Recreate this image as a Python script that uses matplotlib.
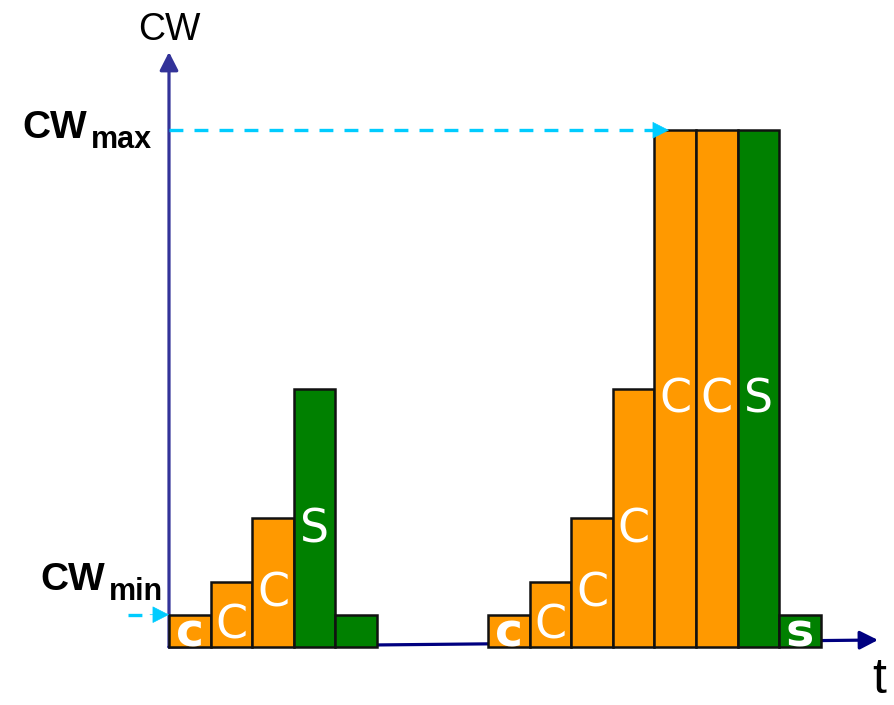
import matplotlib
matplotlib.use("Agg")
import matplotlib.pyplot as plt

# ---------------- data ----------------
group1_heights = [1, 2, 4, 8, 1]
group1_colors = ["#FF9900", "#FF9900", "#FF9900", "#008000", "#008000"]
group1_labels = ["c", "C", "C", "S", ""]

group2_heights = [1, 2, 4, 8, 16, 16, 16, 1]
group2_colors = ["#FF9900"] * 6 + ["#008000", "#008000"]
group2_labels = ["c", "C", "C", "C", "C", "C", "S", "s"]

group1_start = 0.0
group2_start = 7.67
cw_min = 1
cw_max = 16

# ---------------- layout ----------------
W, H = 894, 705
X0, Y0 = 169, 647         # pixel position of origin
SX, SY = 41.6, 32.3       # pixels per slot / per unit


def dx(px):
    return (px - X0) / SX


def dy(py):
    return (Y0 - py) / SY


plt.rcParams["lines.scale_dashes"] = False
fig = plt.figure(figsize=(W / 100, H / 100), dpi=100)
ax = fig.add_axes([0, 0, 1, 1])
ax.set_xlim(dx(0), dx(W))
ax.set_ylim(dy(H), dy(0))
ax.axis("off")

# axes arrows
ax.annotate("", xy=(0, dy(52)), xytext=(0, 0),
            arrowprops=dict(arrowstyle="-|>,head_length=0.55,head_width=0.28",
                            mutation_scale=20, lw=2.3, color="#333399",
                            shrinkA=0, shrinkB=0), zorder=1)
ax.annotate("", xy=(dx(878), dy(640)), xytext=(0, 0),
            arrowprops=dict(arrowstyle="-|>,head_length=0.55,head_width=0.28",
                            mutation_scale=20, lw=2.3, color="#000080",
                            shrinkA=0, shrinkB=0), zorder=1)


def draw_group(start, heights, colors, labels):
    xs = [start + i for i in range(len(heights))]
    ax.bar(xs, heights, width=1.0, align="edge", color=colors,
           edgecolor="#111111", linewidth=1.8, zorder=3)
    for x, h, lab in zip(xs, heights, labels):
        if not lab:
            continue
        if lab.islower():
            ax.text(x + 0.5, 0.03, lab, color="white", fontsize=34,
                    fontweight="bold", ha="center", va="baseline",
                    family="DejaVu Sans", zorder=5)
        else:
            ax.text(x + 0.5, h / 2 - 0.75, lab, color="white", fontsize=33,
                    ha="center", va="baseline", family="DejaVu Sans", zorder=5)


draw_group(group1_start, group1_heights, group1_colors, group1_labels)
draw_group(group2_start, group2_heights, group2_colors, group2_labels)

# dashed markers
cyan = "#00CCFF"
ax.plot([0, dx(655)], [cw_max, cw_max], color=cyan, lw=2.4,
        dashes=(10, 8), zorder=4, solid_capstyle="butt")
ax.annotate("", xy=(dx(669), cw_max), xytext=(dx(650), cw_max),
            arrowprops=dict(arrowstyle="-|>,head_length=0.55,head_width=0.28",
                            mutation_scale=20, lw=0.5, color=cyan,
                            shrinkA=0, shrinkB=0), zorder=6)
ax.plot([dx(128), dx(150)], [cw_min, cw_min], color=cyan, lw=2.4,
        dashes=(10, 8), zorder=4)
ax.annotate("", xy=(dx(169), cw_min), xytext=(dx(150), cw_min),
            arrowprops=dict(arrowstyle="-|>,head_length=0.55,head_width=0.28",
                            mutation_scale=20, lw=0.5, color=cyan,
                            shrinkA=0, shrinkB=0), zorder=6)

# texts
ax.text(0, dy(40), "CW", fontsize=27, family="Liberation Sans",
        ha="center", va="baseline")
ax.text(dx(22), dy(138), "CW", fontsize=28, fontweight="bold",
        family="Liberation Sans", ha="left", va="baseline")
ax.text(dx(91), dy(148), "max", fontsize=22, fontweight="bold",
        family="Liberation Sans", ha="left", va="baseline")
ax.text(dx(40), dy(590), "CW", fontsize=28, fontweight="bold",
        family="Liberation Sans", ha="left", va="baseline")
ax.text(dx(109), dy(600), "min", fontsize=22, fontweight="bold",
        family="Liberation Sans", ha="left", va="baseline")
ax.text(dx(872), dy(703), "t", fontsize=36, family="Liberation Sans",
        ha="left", va="bottom")

fig.savefig("out.png", dpi=100)
